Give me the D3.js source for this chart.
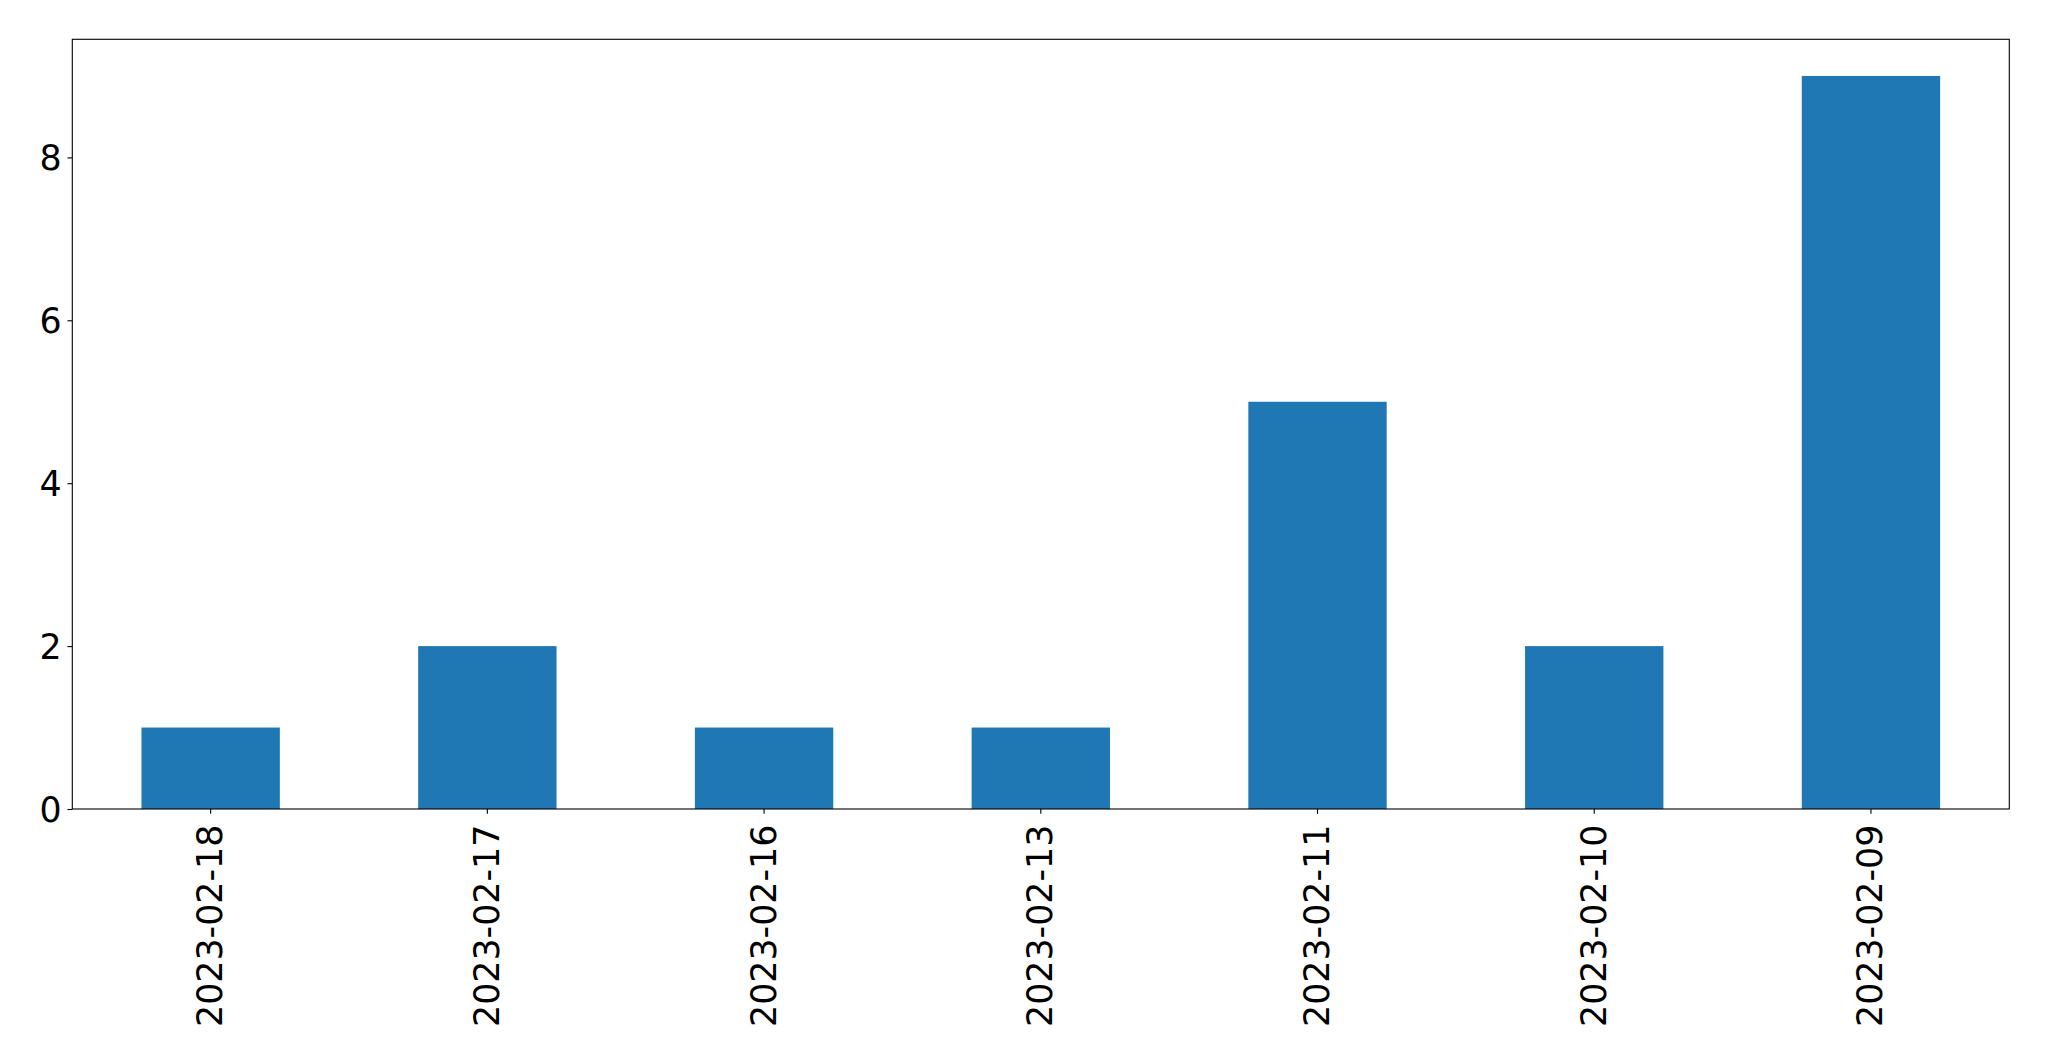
<!DOCTYPE html>
<html>
<head>
<meta charset="utf-8">
<script src="https://cdn.jsdelivr.net/npm/d3@7"></script>
<style>
html,body{margin:0;padding:0;background:#fff;}
svg{display:block;}
text{font-family:"DejaVu Sans",sans-serif;fill:#000;}
</style>
</head>
<body>
<script>
const categories = ["2023-02-18","2023-02-17","2023-02-16","2023-02-13","2023-02-11","2023-02-10","2023-02-09"];
const values = [1,2,1,1,5,2,9];
const yTicks = [0,2,4,6,8];

const W = 2049, H = 1061;
const mLeft = 72.3, mRight = 2009.3, mTop = 39.3, mBottom = 809;
const fs = 34.8;
const tickLen = 4.86, pad = 4.86;

const svg = d3.select("body").append("svg").attr("width", W).attr("height", H);

const x = d3.scaleBand().domain(categories).range([mLeft, mRight]).paddingInner(0.5).paddingOuter(0.25);
const y = d3.scaleLinear().domain([0, 9 * 1.05]).range([mBottom, mTop]);

svg.append("g").selectAll("rect").data(values).join("rect")
  .attr("x", (d,i) => x(categories[i]))
  .attr("width", x.bandwidth())
  .attr("y", d => y(d))
  .attr("height", d => y(0) - y(d))
  .attr("fill", "#1f77b4");

// frame
svg.append("rect").attr("x", mLeft).attr("y", mTop).attr("width", mRight-mLeft).attr("height", mBottom-mTop)
  .attr("fill","none").attr("stroke","#000").attr("stroke-width",1.1);

// y axis
const yAxis = d3.axisLeft(y).tickValues(yTicks).tickSize(tickLen).tickPadding(pad + 1).tickFormat(d3.format("d"));
const gy = svg.append("g").attr("transform", `translate(${mLeft},0)`).call(yAxis);
gy.select(".domain").remove();
gy.selectAll(".tick line").attr("stroke","#000").attr("stroke-width",1.1);
gy.selectAll(".tick text").attr("font-size", fs).attr("font-family","DejaVu Sans").attr("fill","#000").attr("dy","0.36em");

// x axis
const xAxis = d3.axisBottom(x).tickSize(tickLen).tickPadding(pad);
const gx = svg.append("g").attr("transform", `translate(0,${mBottom})`).call(xAxis);
gx.select(".domain").remove();
gx.selectAll(".tick line").attr("stroke","#000").attr("stroke-width",1.1);
gx.selectAll(".tick text")
  .attr("font-size", fs).attr("font-family","DejaVu Sans").attr("fill","#000")
  .attr("text-anchor","end")
  .attr("y", 0).attr("x", 0)
  .attr("transform", `translate(-1,${tickLen + pad + 6}) rotate(-90)`)
  .attr("dy","0.36em");
</script>
</body>
</html>
